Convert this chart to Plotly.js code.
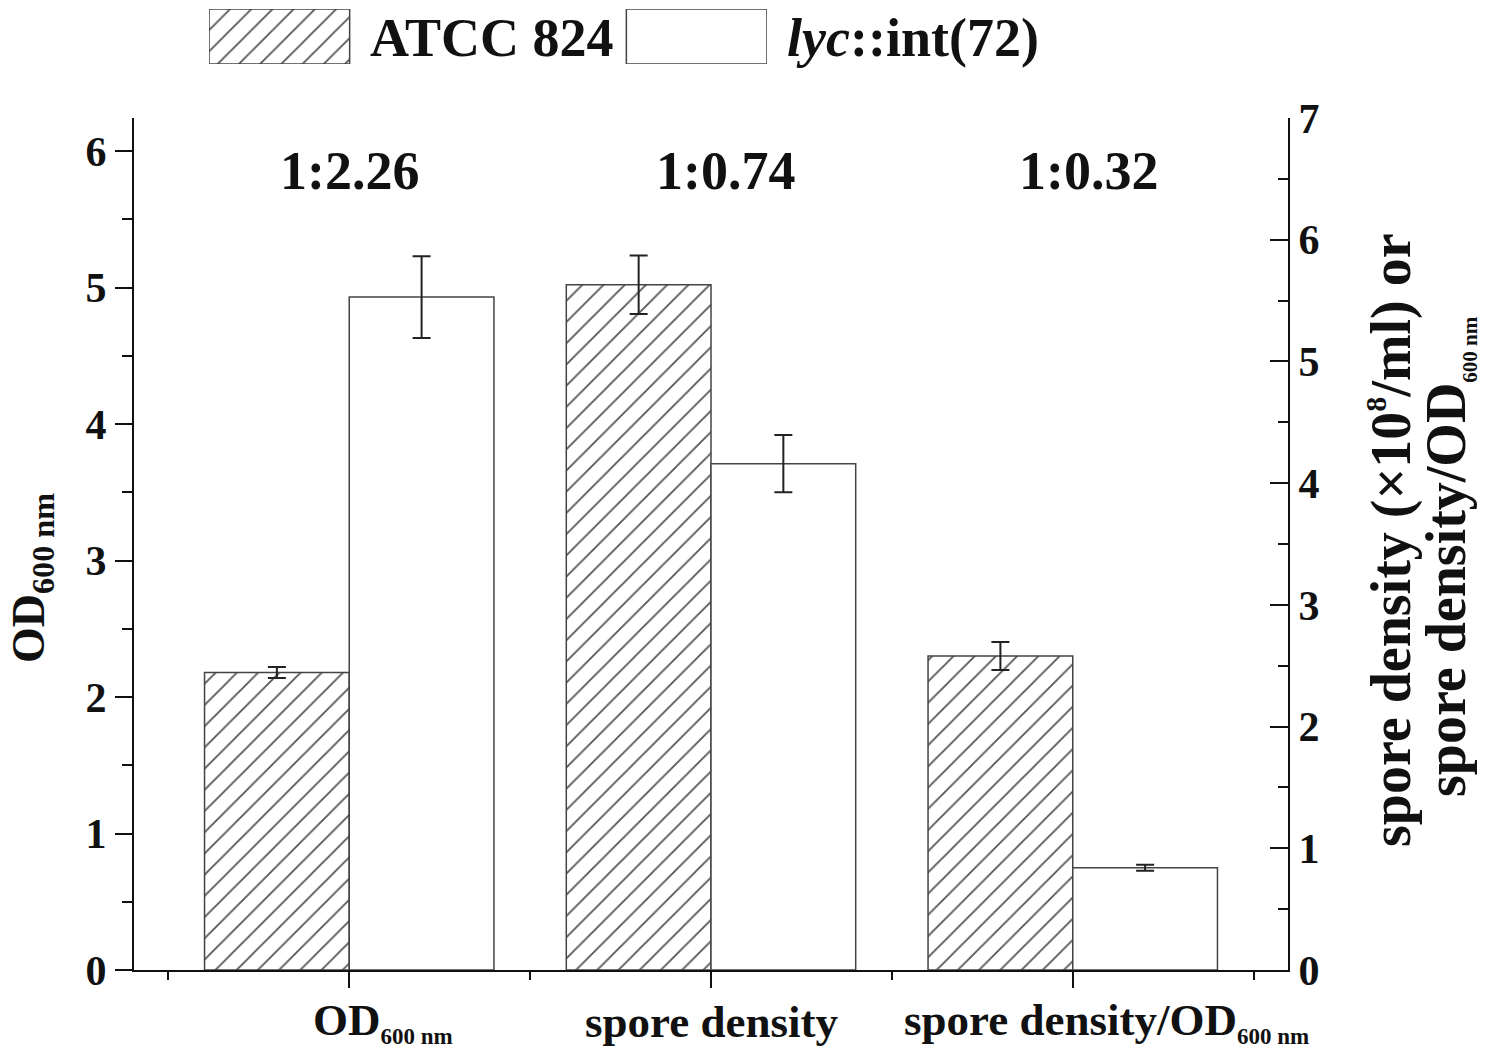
<!DOCTYPE html>
<html>
<head>
<meta charset="utf-8">
<script src="https://cdn.plot.ly/plotly-3.0.1.min.js"></script>
<style>
  html, body { margin: 0; padding: 0; background: #fff; }
  #chart { width: 1500px; height: 1058px; }
</style>
</head>
<body>
<div id="chart"></div>
<script>
// ---- Data ----
const small  = (t, s) => `<span style="font-size:${s}px">${t}</span>`;
const groups      = ['OD<sub>' + small('600 nm', 23) + '</sub>', 'spore density', 'spore density/OD<sub>' + small('600 nm', 23) + '</sub>'];
const groupPos    = [1, 2, 3];
const atccMean    = [2.18, 5.63, 2.58];   // group 1 on left axis, groups 2-3 on right axis
const atccErr     = [0.04, 0.24, 0.115];
const lycMean     = [4.93, 4.16, 0.84];
const lycErr      = [0.30, 0.235, 0.025];
const ratioLabels = ['1:2.26', '1:0.74', '1:0.32'];
const strains     = ['ATCC 824', '<i>lyc</i>::int(72)'];
const legendKeys  = [0, 1];
const legendH     = [1, 1];

// label nudges (px): the original centres the main word, not the subscript
const groupLabelShift = [34, 0, 34];
const ratioShift      = [0, 14, 16];

const FONT  = 'Liberation Serif, Times New Roman, serif';
const INK   = '#111';
const EDGE  = '#444';
const W     = 1500, H = 1058;
const px    = (v) => v / W;
const py    = (v) => 1 - v / H;

const hatch = { shape: '/', fgcolor: '#555', bgcolor: '#fff', size: 15, solidity: 0.12, fillmode: 'replace' };

function barTrace(strainIdx, idxs, yaxis) {
  const isAtcc = strainIdx === 0;
  const mean = isAtcc ? atccMean : lycMean;
  const err  = isAtcc ? atccErr  : lycErr;
  return {
    type: 'bar',
    x: idxs.map(i => groupPos[i]),
    y: idxs.map(i => mean[i]),
    width: 0.4,
    offset: isAtcc ? -0.4 : 0,
    xaxis: 'x',
    yaxis: yaxis,
    marker: {
      color: '#fff',
      line: { color: EDGE, width: 1.5 },
      pattern: isAtcc ? hatch : { shape: '' },
    },
    error_y: { type: 'data', array: idxs.map(i => err[i]), visible: true, color: '#222', thickness: 2, width: 9 },
    showlegend: false,
    hoverinfo: 'skip',
  };
}

const traces = [
  barTrace(0, [0], 'y'),
  barTrace(1, [0], 'y'),
  barTrace(0, [1, 2], 'y2'),
  barTrace(1, [1, 2], 'y2'),
  // legend key boxes
  {
    type: 'bar',
    x: legendKeys,
    y: legendH,
    width: 0.337,
    xaxis: 'x2',
    yaxis: 'y3',
    marker: {
      color: '#fff',
      line: { color: EDGE, width: 1.5 },
      pattern: { shape: ['/', ''], fgcolor: '#555', bgcolor: '#fff', size: 15, solidity: 0.12, fillmode: 'replace' },
    },
    showlegend: false,
    hoverinfo: 'skip',
  },
];

const bold = (size) => ({ family: FONT, size: size, color: INK, weight: 'bold' });

const annotations = [];
ratioLabels.forEach((t, i) => {
  annotations.push({
    text: t, x: groupPos[i], xref: 'x', xshift: ratioShift[i], y: py(171), yref: 'paper',
    showarrow: false, xanchor: 'center', yanchor: 'middle', font: bold(54),
  });
});
groups.forEach((t, i) => {
  annotations.push({
    text: t, x: groupPos[i], xref: 'x', xshift: groupLabelShift[i], y: py(1022), yref: 'paper',
    showarrow: false, xanchor: 'center', yanchor: 'middle', font: bold(45),
  });
});
strains.forEach((t, i) => {
  annotations.push({
    text: t, x: legendKeys[i] + 0.1685, xref: 'x2', xshift: 18, y: py(38), yref: 'paper',
    showarrow: false, xanchor: 'left', yanchor: 'middle', font: bold(54),
  });
});
// axis titles
annotations.push({
  text: 'OD<sub>600 nm</sub>', x: px(32), xref: 'paper', y: py(578), yref: 'paper',
  textangle: -90, showarrow: false, xanchor: 'center', yanchor: 'middle', font: bold(46),
});
annotations.push({
  text: 'spore density (×10<sup>' + small('8', 30) + '</sup>/ml) or',
  x: px(1391), xref: 'paper', y: py(540), yref: 'paper',
  textangle: -90, showarrow: false, xanchor: 'center', yanchor: 'middle', font: bold(56),
});
annotations.push({
  text: 'spore density/OD<sub>' + small('600 nm', 21) + '</sub>',
  x: px(1448), xref: 'paper', y: py(557), yref: 'paper',
  textangle: -90, showarrow: false, xanchor: 'center', yanchor: 'middle', font: bold(56),
});

const tickFont = bold(42);

const layout = {
  width: W,
  height: H,
  margin: { l: 0, r: 0, t: 0, b: 0 },
  paper_bgcolor: '#fff',
  plot_bgcolor: 'rgba(0,0,0,0)',
  font: { family: FONT, color: INK, weight: 'bold' },
  barmode: 'overlay',
  showlegend: false,
  xaxis: {
    domain: [px(134), px(1288)],
    anchor: 'y',
    range: [0.405, 3.595],
    tickvals: groupPos,
    showticklabels: false,
    ticks: 'outside', ticklen: 16, tickwidth: 2, tickcolor: INK,
    minor: { tickvals: [0.5, 1.5, 2.5, 3.5], ticks: 'outside', ticklen: 8, tickwidth: 2, tickcolor: INK },
    showline: true, linecolor: INK, linewidth: 2,
    showgrid: false, zeroline: false,
  },
  yaxis: {
    domain: [py(970), py(118)],
    anchor: 'x',
    range: [0, 6.242],
    tickvals: [0, 1, 2, 3, 4, 5, 6],
    tickfont: tickFont,
    ticks: 'outside', ticklen: 17, tickwidth: 2, tickcolor: INK,
    minor: { dtick: 0.5, ticks: 'outside', ticklen: 10, tickwidth: 2, tickcolor: INK },
    showline: true, linecolor: INK, linewidth: 2,
    showgrid: false, zeroline: false,
  },
  yaxis2: {
    overlaying: 'y',
    side: 'right',
    anchor: 'x',
    range: [0, 7],
    tickvals: [0, 1, 2, 3, 4, 5, 6, 7],
    tickfont: tickFont,
    ticks: 'inside', ticklen: 18, tickwidth: 2, tickcolor: INK,
    minor: { dtick: 0.5, ticks: 'inside', ticklen: 10, tickwidth: 2, tickcolor: INK },
    showline: true, linecolor: INK, linewidth: 2,
    showgrid: false, zeroline: false,
  },
  xaxis2: {
    domain: [px(209), px(767)],
    anchor: 'y3',
    range: [-0.1685, 1.1685],
    visible: false,
  },
  yaxis3: {
    domain: [py(64), py(9)],
    anchor: 'x2',
    range: [0, 1],
    visible: false,
  },
  annotations: annotations,
};

Plotly.newPlot('chart', traces, layout, { displayModeBar: false, staticPlot: true });
</script>
</body>
</html>
